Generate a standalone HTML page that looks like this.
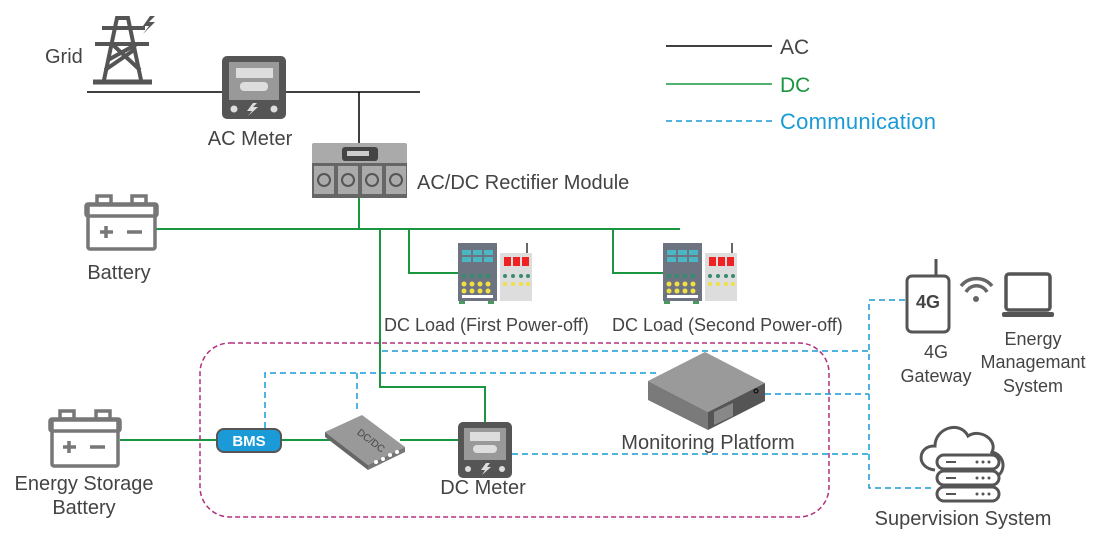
<!DOCTYPE html>
<html><head><meta charset="utf-8"><style>
body{margin:0;background:#fff}
svg{display:block}
text{font-family:"Liberation Sans",sans-serif;font-size:20px;fill:#444}
</style></head><body>
<svg width="1098" height="540" viewBox="0 0 1098 540" xmlns="http://www.w3.org/2000/svg">
<!-- legend -->
<line x1="666" y1="46" x2="772" y2="46" stroke="#000" stroke-width="1.5"/>
<text x="780" y="54" style="font-size:21px">AC</text>
<line x1="666" y1="84" x2="772" y2="84" stroke="#1a9640" stroke-width="1.5"/>
<text x="780" y="92" style="fill:#1a9640;font-size:21px">DC</text>
<line x1="666" y1="121" x2="772" y2="121" stroke="#1a9ad6" stroke-width="1.5" stroke-dasharray="6,4"/>
<text x="780" y="129" style="fill:#1a9ad6;font-size:22px" textLength="156">Communication</text>

<!-- Grid -->
<text x="45" y="63">Grid</text>
<g stroke="#555" stroke-width="4" fill="none">
<line x1="93" y1="82" x2="152" y2="82" stroke-width="5"/>
<path d="M104 80 L117 18 L128 18 L141 80"/>
<line x1="102" y1="28" x2="145" y2="28"/>
<line x1="95" y1="44" x2="149" y2="44"/>
<path d="M108 60 L137 44 M112 44 L140 70 M105 70 L134 50"/>
</g>
<path d="M150 16 L143 26 L149 26 L143 34 L155 22 L149 22 L155 16Z" fill="#555"/>
<line x1="87" y1="92" x2="420" y2="92" stroke="#000" stroke-width="1.5"/>

<!-- AC meter -->
<rect x="222" y="56" width="64" height="63" rx="5" fill="#555"/>
<rect x="229" y="62" width="50" height="38" fill="#999"/>
<rect x="236" y="68" width="37" height="10" fill="#ddd"/>
<rect x="240" y="82" width="28" height="9" rx="4" fill="#ddd"/>
<circle cx="234" cy="109" r="3.5" fill="#ddd"/><circle cx="274" cy="109" r="3.5" fill="#ddd"/>
<path d="M253 103 L247 111 L252 111 L248 116 L258 107 L253 107 L257 103Z" fill="#ddd"/>
<text x="250" y="145" text-anchor="middle">AC Meter</text>
<line x1="359" y1="92" x2="359" y2="143" stroke="#000" stroke-width="1.5"/>

<!-- Rectifier -->
<rect x="312" y="143" width="95" height="55" rx="2" fill="#aaa"/>
<rect x="342" y="147" width="36" height="14" rx="3" fill="#444"/>
<rect x="347" y="151" width="22" height="5" fill="#ccc"/>
<rect x="312" y="163" width="95" height="35" fill="#666"/>
<g fill="#aaa"><rect x="314" y="166" width="20" height="28"/><rect x="338" y="166" width="20" height="28"/><rect x="362" y="166" width="20" height="28"/><rect x="386" y="166" width="20" height="28"/></g>
<g fill="none" stroke="#555" stroke-width="2"><circle cx="324" cy="180" r="6"/><circle cx="348" cy="180" r="6"/><circle cx="372" cy="180" r="6"/><circle cx="396" cy="180" r="6"/></g>
<text x="417" y="189">AC/DC Rectifier Module</text>

<!-- DC bus -->
<g stroke="#1a9640" stroke-width="2" fill="none">
<line x1="359" y1="198" x2="359" y2="229"/>
<line x1="155" y1="229" x2="680" y2="229"/>
<path d="M380 229 V387 H485 V422"/>
<path d="M409 229 V273 H458"/>
<path d="M613 229 V273 H663"/>
<line x1="120" y1="440" x2="217" y2="440"/>
<line x1="281" y1="440" x2="330" y2="440"/>
<line x1="400" y1="440" x2="458" y2="440"/>
</g>

<!-- Battery -->
<g fill="none" stroke="#777" stroke-width="3.5">
<rect x="88" y="205" width="67" height="44" rx="2"/>
<rect x="86" y="204" width="71" height="12" rx="2"/>
<rect x="97" y="196" width="14" height="8"/><rect x="132" y="196" width="14" height="8"/>
<path d="M100 232 H113 M106 226 V238 M127 232 H142"/>
</g>
<text x="119" y="279" text-anchor="middle">Battery</text>

<!-- Loads -->
<g id="load">
<rect x="458" y="243" width="39" height="58" fill="#6d7380"/>
<rect x="500" y="253" width="32" height="48" fill="#ddd"/>
<line x1="527" y1="243" x2="527" y2="253" stroke="#666" stroke-width="2"/>
<g fill="#4ab8c4"><rect x="462" y="250" width="9" height="5"/><rect x="473" y="250" width="9" height="5"/><rect x="484" y="250" width="9" height="5"/><rect x="462" y="257" width="9" height="5"/><rect x="473" y="257" width="9" height="5"/><rect x="484" y="257" width="9" height="5"/></g>
<g fill="#e22"><rect x="504" y="257" width="7" height="9"/><rect x="513" y="257" width="7" height="9"/><rect x="522" y="257" width="7" height="9"/></g>
<g fill="#3a8a70"><circle cx="464" cy="276" r="2.5"/><circle cx="472" cy="276" r="2.5"/><circle cx="480" cy="276" r="2.5"/><circle cx="488" cy="276" r="2.5"/><circle cx="505" cy="276" r="2"/><circle cx="513" cy="276" r="2"/><circle cx="521" cy="276" r="2"/><circle cx="528" cy="276" r="2"/></g>
<g fill="#f0e040"><circle cx="464" cy="284" r="2.5"/><circle cx="472" cy="284" r="2.5"/><circle cx="480" cy="284" r="2.5"/><circle cx="488" cy="284" r="2.5"/><circle cx="464" cy="291" r="2.5"/><circle cx="472" cy="291" r="2.5"/><circle cx="480" cy="291" r="2.5"/><circle cx="488" cy="291" r="2.5"/><circle cx="505" cy="284" r="2"/><circle cx="513" cy="284" r="2"/><circle cx="521" cy="284" r="2"/><circle cx="528" cy="284" r="2"/></g>
<rect x="462" y="295" width="31" height="3" fill="#fff"/>
<rect x="459" y="301" width="6" height="3" fill="#4a9a60"/><rect x="488" y="301" width="6" height="3" fill="#4a9a60"/>
</g>
<use href="#load" transform="translate(205,0)"/>
<text x="384" y="331" style="font-size:18px">DC Load (First Power-off)</text>
<text x="612" y="331" style="font-size:18px">DC Load (Second Power-off)</text>

<!-- magenta box -->
<rect x="200" y="343" width="629" height="174" rx="30" fill="none" stroke="#b0307f" stroke-width="1.5" stroke-dasharray="5,3"/>

<!-- comm lines -->
<g stroke="#1a9ad6" stroke-width="1.5" fill="none" stroke-dasharray="6,4">
<line x1="382" y1="351" x2="869" y2="351"/>
<path d="M265 428 V373 H660"/>
<line x1="357" y1="373" x2="357" y2="412"/>
<line x1="765" y1="394" x2="869" y2="394"/>
<line x1="512" y1="454" x2="869" y2="454"/>
<path d="M905 300 H869 V488 H932"/>
</g>

<!-- BMS -->
<rect x="217" y="429" width="64" height="23" rx="7" fill="#1a9ad6" stroke="#555" stroke-width="2"/>
<text x="249" y="446" text-anchor="middle" style="fill:#fff;font-weight:bold;font-size:15px">BMS</text>

<!-- DC/DC -->
<path d="M325 432 L362 415 L405 447 L368 465Z" fill="#999"/>
<path d="M325 432 L325 437 L368 470 L368 465Z" fill="#666"/>
<path d="M368 465 L405 447 L405 452 L368 470Z" fill="#777"/>
<g fill="#fff"><circle cx="376" cy="462" r="2"/><circle cx="383" cy="459" r="2"/><circle cx="390" cy="455" r="2"/><circle cx="397" cy="452" r="2"/></g>
<text x="355" y="438" transform="rotate(37 362 438)" style="font-size:10px;fill:#444">DC/DC</text>

<!-- DC meter -->
<rect x="458" y="422" width="54" height="56" rx="5" fill="#555"/>
<rect x="464" y="428" width="42" height="32" fill="#999"/>
<rect x="470" y="432" width="30" height="9" fill="#ddd"/>
<rect x="473" y="445" width="24" height="8" rx="4" fill="#ddd"/>
<circle cx="468" cy="469" r="3" fill="#ddd"/><circle cx="502" cy="469" r="3" fill="#ddd"/>
<path d="M486 463 L481 470 L485 470 L482 475 L491 467 L487 467 L490 463Z" fill="#ddd"/>
<text x="483" y="494" text-anchor="middle">DC Meter</text>

<!-- Monitoring platform -->
<path d="M648 381 L705 352 L765 383 L708 412Z" fill="#9a9a9a"/>
<path d="M648 381 L648 400 L708 430 L708 412Z" fill="#7a7a7a"/>
<path d="M708 412 L765 383 L765 401 L708 430Z" fill="#555"/>
<path d="M714 412 L733 403 L733 416 L714 425Z" fill="#888"/>
<circle cx="756" cy="391" r="2" fill="none" stroke="#000"/>
<text x="708" y="449" text-anchor="middle">Monitoring Platform</text>

<!-- Energy storage battery -->
<g fill="none" stroke="#777" stroke-width="3.5">
<rect x="52" y="420" width="66" height="46" rx="2"/>
<rect x="50" y="419" width="70" height="12" rx="2"/>
<rect x="60" y="411" width="14" height="8"/><rect x="96" y="411" width="14" height="8"/>
<path d="M63 447 H76 M69 441 V453 M90 447 H105"/>
</g>
<text x="84" y="490" text-anchor="middle">Energy Storage</text>
<text x="84" y="514" text-anchor="middle">Battery</text>

<!-- 4G gateway -->
<line x1="936" y1="259" x2="936" y2="276" stroke="#555" stroke-width="3"/>
<rect x="907" y="276" width="42" height="56" rx="5" fill="#fff" stroke="#555" stroke-width="3"/>
<text x="928" y="308" text-anchor="middle" style="font-weight:bold;font-size:18px;fill:#444">4G</text>
<text x="936" y="358" text-anchor="middle" style="font-size:18px">4G</text>
<text x="936" y="382" text-anchor="middle" style="font-size:18px">Gateway</text>
<g fill="none" stroke="#666" stroke-width="3.5">
<path d="M961 286 A20 20 0 0 1 992 286"/><path d="M966 292 A12 12 0 0 1 987 292"/>
</g>
<circle cx="976" cy="299" r="3" fill="#666"/>
<rect x="1006" y="274" width="44" height="36" rx="3" fill="none" stroke="#555" stroke-width="3.5"/>
<rect x="1002" y="312" width="52" height="5" rx="2" fill="#555"/>
<text x="1033" y="345" text-anchor="middle" style="font-size:18px">Energy</text>
<text x="1033" y="368" text-anchor="middle" style="font-size:18px">Managemant</text>
<text x="1033" y="392" text-anchor="middle" style="font-size:18px">System</text>

<!-- cloud -->
<path d="M935 470 C915 468 918 445 935 446 C935 428 960 420 968 436 C980 428 998 440 992 452 C1008 456 1006 478 990 478" fill="none" stroke="#555" stroke-width="3"/>
<g fill="#fff" stroke="#555" stroke-width="3">
<rect x="937" y="455" width="62" height="14" rx="7"/>
<rect x="937" y="471" width="62" height="14" rx="7"/>
<rect x="937" y="487" width="62" height="14" rx="7"/>
</g>
<g stroke="#555" stroke-width="2"><line x1="946" y1="462" x2="956" y2="462"/><line x1="946" y1="478" x2="956" y2="478"/><line x1="946" y1="494" x2="956" y2="494"/></g>
<g fill="#555"><circle cx="977" cy="462" r="1.5"/><circle cx="983" cy="462" r="1.5"/><circle cx="989" cy="462" r="1.5"/><circle cx="977" cy="478" r="1.5"/><circle cx="983" cy="478" r="1.5"/><circle cx="989" cy="478" r="1.5"/><circle cx="977" cy="494" r="1.5"/><circle cx="983" cy="494" r="1.5"/><circle cx="989" cy="494" r="1.5"/></g>
<text x="963" y="525" text-anchor="middle">Supervision System</text>
</svg>
</body></html>
